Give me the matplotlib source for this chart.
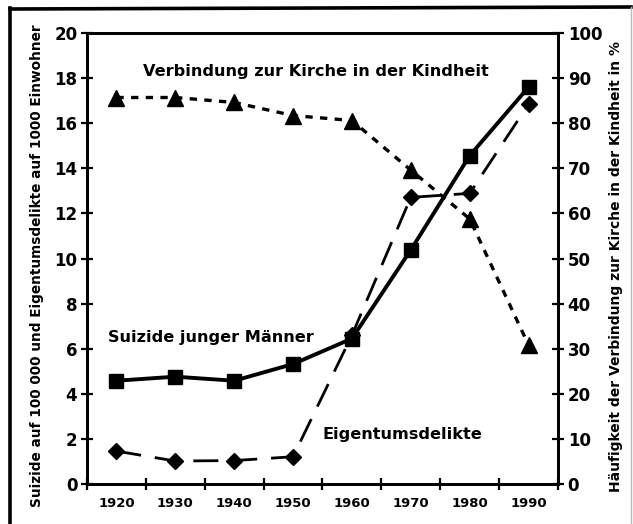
import matplotlib
matplotlib.use("Agg")
import matplotlib.pyplot as plt
from matplotlib.lines import Line2D

# Data
decades = ["1920", "1930", "1940", "1950", "1960", "1970", "1980", "1990"]
suizide = [4.58, 4.76, 4.58, 5.32, 6.45, 10.38, 14.56, 17.6]
eigentum = [1.46, 1.02, 1.04, 1.21, 6.6, 12.71, 12.89, 16.84]
kirche = [85.7, 85.7, 84.6, 81.7, 80.6, 69.6, 58.8, 30.8]

left_ticks = list(range(0, 21, 2))
right_ticks = list(range(0, 101, 10))

plt.rcParams['font.family'] = 'DejaVu Sans'
plt.rcParams['font.weight'] = 'bold'

fig = plt.figure(figsize=(6.33, 5.24), dpi=100)
ax = fig.add_axes([0.1374, 0.0763, 0.8815 - 0.1374, 0.937 - 0.0763])
ax2 = ax.twinx()

x = list(range(len(decades)))

ax.plot(x, suizide, color='black', lw=2.8, marker='s', ms=10.5,
        solid_joinstyle='round', zorder=3)
ax.plot(x, eigentum, color='black', lw=2.0, marker='D', ms=8.5,
        dashes=(9, 5), zorder=3)
ax2.plot(x, kirche, color='black', lw=2.4, marker='^', ms=11.5,
         dashes=(2.2, 2.2), zorder=3)

ax.set_xlim(-0.5, len(decades) - 0.5)
ax.set_ylim(0, 20)
ax2.set_ylim(0, 100)

# category axis: ticks between decades, labels centred
ax.set_xticks([i - 0.5 for i in range(len(decades) + 1)])
ax.set_xticklabels([])
ax.set_xticks(x, minor=True)
ax.set_xticklabels(decades, minor=True, fontsize=9.5, fontweight='bold')
ax.tick_params(axis='x', which='major', direction='inout', length=8, width=1.6)
ax.tick_params(axis='x', which='minor', length=0, pad=9)

ax.set_yticks(left_ticks)
ax.set_yticklabels([str(t) for t in left_ticks], fontsize=12, fontweight='bold')
ax.tick_params(axis='y', direction='inout', length=8, width=1.6, pad=3)

ax2.set_yticks(right_ticks)
ax2.set_yticklabels([str(t) for t in right_ticks], fontsize=12, fontweight='bold')
ax2.tick_params(axis='y', direction='inout', length=8, width=1.6, pad=3)

for a in (ax, ax2):
    for s in a.spines.values():
        s.set_linewidth(2.0)

ax.set_ylabel("Suizide auf 100 000 und Eigentumsdelikte auf 1000 Einwohner",
              fontsize=9.8, fontweight='bold', labelpad=7)
ax2.set_ylabel("Häufigkeit der Verbindung zur Kirche in der Kindheit in %",
               fontsize=10, fontweight='bold', labelpad=5)
ax.yaxis.label.set_y(0.483)
ax2.yaxis.label.set_y(0.483)

ax.text(0.45, 18.3, "Verbindung zur Kirche in der Kindheit",
        fontsize=11.6, fontweight='bold', va='center', ha='left')
ax.text(-0.15, 6.5, "Suizide junger Männer",
        fontsize=11.6, fontweight='bold', va='center', ha='left')
ax.text(3.5, 2.2, "Eigentumsdelikte",
        fontsize=11.6, fontweight='bold', va='center', ha='left')

# outer frame (cropped on right and bottom)
W, H = 633, 524
fig.add_artist(Line2D([10 / W, 10 / W], [0, 1 - 8 / H], color='black', lw=2.6,
                      transform=fig.transFigure))
fig.add_artist(Line2D([10 / W, 631 / W], [1 - 9 / H, 1 - 7 / H], color='black', lw=2.6,
                      transform=fig.transFigure))
fig.add_artist(Line2D([631 / W, 631 / W], [0, 1 - 7 / H], color='#bbbbbb', lw=1.0,
                      transform=fig.transFigure))

fig.savefig("out.png", dpi=100)
